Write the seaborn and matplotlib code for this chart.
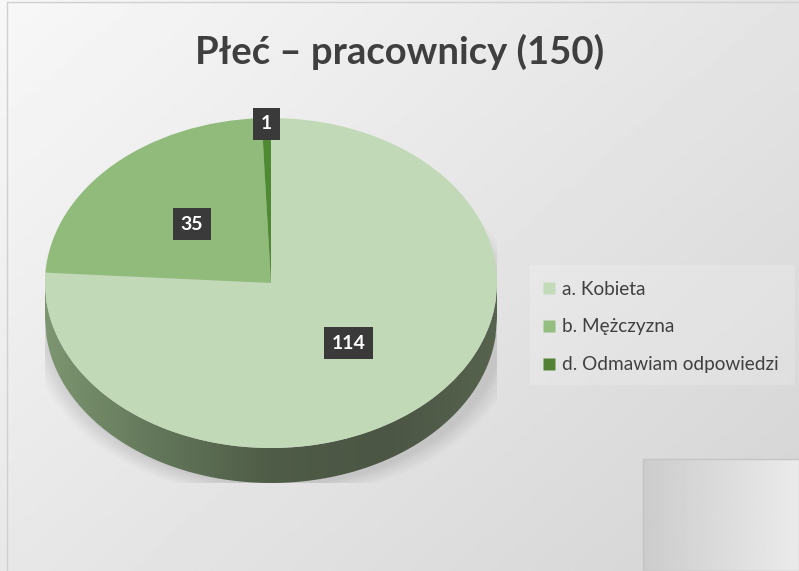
import numpy as np
import matplotlib
matplotlib.use("Agg")
import matplotlib.pyplot as plt
import seaborn as sns
from matplotlib.patches import Polygon, Rectangle, Ellipse
from matplotlib.lines import Line2D
from matplotlib.colors import LinearSegmentedColormap

sns.set_style("white")
plt.rcParams["font.family"] = ["Lato", "DejaVu Sans"]

title = "Płeć – pracownicy (150)"
categories = ["a. Kobieta", "b. Mężczyzna", "d. Odmawiam odpowiedzi"]
counts = [114, 35, 1]
colors = ["#c2d9b7", "#90bb7b", "#4f8a33"]
legend_colors = ["#c3dbb9", "#93be7f", "#548235"]

W, H = 799, 571
fig = plt.figure(figsize=(W / 100, H / 100), dpi=100)

# background gradient
bg = fig.add_axes([0, 0, 1, 1])
gx, gy = np.meshgrid(np.linspace(0, 1, 300), np.linspace(0, 1, 200))
shade = 0.97 - 0.14 * (0.55 * gx + 0.45 * gy)
bg.imshow(shade, cmap="gray", vmin=0, vmax=1, extent=[0, W, H, 0], aspect="auto")
bg.add_patch(Rectangle((643, 459), W - 643, H - 459, facecolor="none", edgecolor="#c4c4c4", lw=1))
gx2 = np.linspace(0.80, 0.92, 100)[None, :].repeat(10, axis=0)
bg.imshow(gx2, cmap="gray", vmin=0, vmax=1, extent=[644, W, H, 460], aspect="auto")
bg.plot([7, 7], [2, H], color="#d0d0d0", lw=1)
bg.plot([7, W], [2, 2], color="#d0d0d0", lw=1)
# legend area panel
bg.add_patch(Rectangle((530, 265), 265, 120, facecolor="white", alpha=0.18, edgecolor="none"))
bg.set_xlim(0, W)
bg.set_ylim(H, 0)
bg.axis("off")

# pie geometry (pixels)
cx, top, rx, ry, depth = 271, 118, 226, 165, 35
d = depth / ry
ax_bottom = top + 2 * ry + depth
ax = fig.add_axes([(cx - rx) / W, (H - ax_bottom) / H, 2 * rx / W, (ax_bottom - top) / H])

# soft shadow under the pie
for k, a in zip(range(6), [0.05, 0.05, 0.05, 0.04, 0.04, 0.03]):
    ax.add_patch(Ellipse((0.02, -d - 0.02), 2.04 + 0.03 * k, 2.0 + 0.03 * k,
                         facecolor="#777777", alpha=a, edgecolor="none", zorder=0))

# side of the 3D disc
xs = np.linspace(-1, 1, 300)
ys = -np.sqrt(np.clip(1 - xs ** 2, 0, None))
side = np.column_stack([np.r_[xs, xs[::-1]], np.r_[ys, ys[::-1] - d]])
side_patch = Polygon(side, closed=True, facecolor="none", edgecolor="none", zorder=1)
ax.add_patch(side_patch)
grad = np.linspace(0, 1, 256)[None, :]
side_cmap = LinearSegmentedColormap.from_list("side", ["#7d9570", "#62775a", "#4f5c47", "#4b5644", "#56634e"])
im = ax.imshow(grad, cmap=side_cmap, extent=[-1, 1, -1 - d, 0], aspect="auto", zorder=1)
im.set_clip_path(side_patch)

wedges, _ = ax.pie(counts, colors=colors, startangle=90, counterclock=False,
                   wedgeprops=dict(linewidth=0))
for w in wedges:
    w.set_zorder(2)
ax.set_aspect("auto")
ax.set_xlim(-1, 1)
ax.set_ylim(-1 - d, 1)
ax.axis("off")

# data labels
for w, n in zip(wedges, counts):
    mid = np.deg2rad((w.theta1 + w.theta2) / 2)
    r = 0.5 if n / sum(counts) > 0.05 else 0.965
    x, y = r * np.cos(mid), r * np.sin(mid)
    ax.text(x, y, str(n), ha="center", va="center", color="white", fontsize=14,
            fontweight="bold", zorder=5,
            bbox=dict(boxstyle="square,pad=0.4", facecolor="#3a3a3a", edgecolor="none"))

fig.text(0.5, 1 - 52 / H, title, ha="center", va="center", fontsize=27.5,
         fontweight="bold", color="#3f3f3f")

handles = [Line2D([0], [0], marker="s", linestyle="none", markersize=9,
                  markerfacecolor=c, markeredgecolor="none") for c in legend_colors]
fig.legend(handles, categories, loc="center left", bbox_to_anchor=(533 / W, 1 - 327 / H),
           frameon=False, fontsize=13.7, labelcolor="#404040", handletextpad=0.2,
           labelspacing=1.1, handlelength=0.9, borderaxespad=0)

fig.savefig("out.png", dpi=100)
